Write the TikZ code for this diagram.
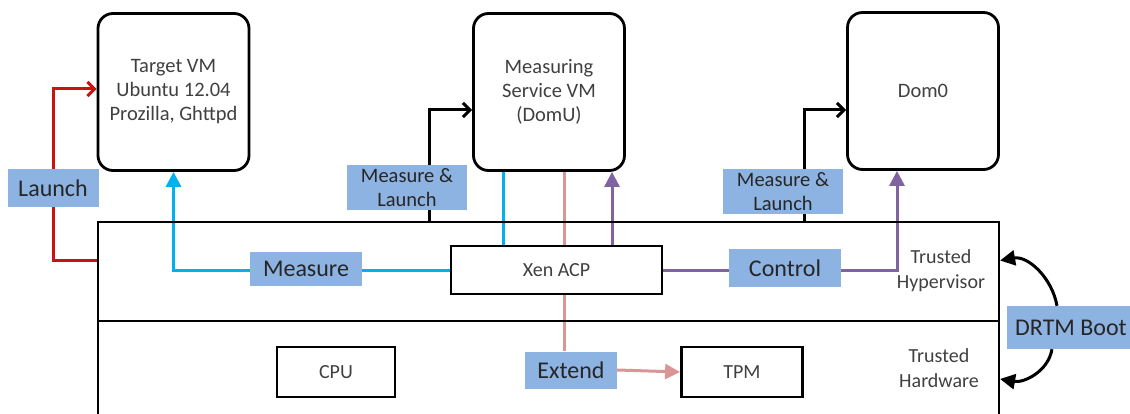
\documentclass[tikz,border=0pt]{standalone}
\usepackage{fontspec}
\setmainfont{Carlito}
\usetikzlibrary{arrows.meta}
\definecolor{lblue}{HTML}{8DB3E2}
\definecolor{cyanl}{HTML}{00B0F0}
\definecolor{redl}{HTML}{CC1111}
\definecolor{pinkl}{HTML}{DA9694}
\definecolor{purpl}{HTML}{8064A2}
\definecolor{txt}{HTML}{404040}
\pgfdeclarelayer{bg}
\pgfsetlayers{bg,main}
\tikzset{
  vm/.style={draw, line width=2.8pt, rounded corners=15pt, minimum width=151pt, minimum height=157pt, inner sep=0pt, align=center, text=txt, font=\fontsize{20.5}{24}\selectfont, fill=white},
  sbox/.style={draw, line width=2.8pt, inner sep=0pt, text=txt, font=\fontsize{20}{22}\selectfont, fill=white},
  layer/.style={draw, line width=2.2pt, inner sep=0pt, minimum width=901pt},
  lbl/.style={fill=lblue, inner sep=0pt, text=black!85, align=center},
  big/.style={font=\fontsize{24}{28}\selectfont},
  small/.style={font=\fontsize{20.5}{24}\selectfont},
  note/.style={align=center, text=txt, font=\fontsize{20}{25}\selectfont},
  con/.style={line width=3pt},
  open/.style={-{Straight Barb[length=7pt,width=14pt,line width=3pt]}},
  fillt/.style={-{Triangle[length=15pt,width=15pt]}},
}
\begin{document}
\begin{tikzpicture}[x=1pt,y=-1pt]
\useasboundingbox (0,0) rectangle (1130,414);
% layers
\node[layer, minimum height=99pt] (hyp) at (548.5,271.5) {};
\node[layer, minimum height=100pt] (hw) at (548.5,371) {};
\node[note, anchor=center] (th) at (941,271) {Trusted\\Hypervisor};
\node[note, anchor=center] (thw) at (939,368) {Trusted\\Hardware};
% VMs
\node[vm] (tvm) at (173.5,92) {Target VM\\Ubuntu 12.04\\Prozilla, Ghttpd};
\node[vm] (msvm) at (549,92) {Measuring\\Service VM\\(DomU)};
\node[vm] (dom0) at (923,91) {Dom0};
% inner boxes
\node[sbox, minimum width=211pt, minimum height=48pt] (acp) at (556.5,270) {Xen ACP};
\node[sbox, minimum width=118pt, minimum height=50pt] (cpu) at (336,372) {CPU};
\node[sbox, minimum width=121pt, minimum height=50pt] (tpm) at (742,372) {TPM};
% labels
\node[lbl, big, minimum width=91pt, minimum height=38pt] (launch) at (53,188) {Launch};
\node[lbl, big, minimum width=112pt, minimum height=33pt] (measure) at (306,269) {Measure};
\node[lbl, big, minimum width=112pt, minimum height=38pt] (control) at (785,268) {Control};
\node[lbl, big, minimum width=92pt, minimum height=37pt] (extend) at (571,370) {Extend};
\node[lbl, big, minimum width=128pt, minimum height=43pt] (drtm) at (1071,327.5) {DRTM Boot};
\node[lbl, small, minimum width=120pt, minimum height=45pt] (ml1) at (407,187.5) {Measure \&\\Launch};
\node[lbl, small, minimum width=120pt, minimum height=45pt] (ml2) at (783,191.5) {Measure \&\\Launch};
% connectors
\begin{pgfonlayer}{bg}
\draw[con, redl, open] ([yshift=11pt]hyp.west) -| (launch.center) |- ([yshift=3pt]tvm.west);
\draw[con, cyanl, fillt] (acp.west) -| (tvm.south);
\draw[con, cyanl] ([xshift=-53.5pt]acp.north) coordinate (c1) -- (c1 |- msvm.south);
\draw[con, pinkl] ([xshift=7.5pt]acp.north) coordinate (p1) -- (p1 |- msvm.south);
\draw[con, pinkl] ([xshift=7.5pt]acp.south) coordinate (p2) -- (p2 |- extend.north);
\draw[con, pinkl, fillt] (extend.east) -- (tpm.west);
\draw[con, purpl, fillt] ([xshift=55.5pt]acp.north) coordinate (q1) -- (q1 |- msvm.south);
\draw[con, purpl, fillt] (acp.east) -| ([xshift=-26pt]dom0.south);
\coordinate (b1) at (429,222);
\coordinate (b2) at (804,222);
\draw[con, black, open] (b1) |- ([yshift=-18pt]msvm.west);
\draw[con, black, open] (b2) |- ([yshift=-19pt]dom0.west);
\end{pgfonlayer}
\draw[con, black, fillt] ([xshift=-14pt]drtm.north) to[out=100,in=10] ([yshift=11pt]hyp.east);
\draw[con, black, fillt] ([xshift=-19pt]drtm.south) to[out=-100,in=-10] ([yshift=-8pt]hw.east);
\end{tikzpicture}
\end{document}
